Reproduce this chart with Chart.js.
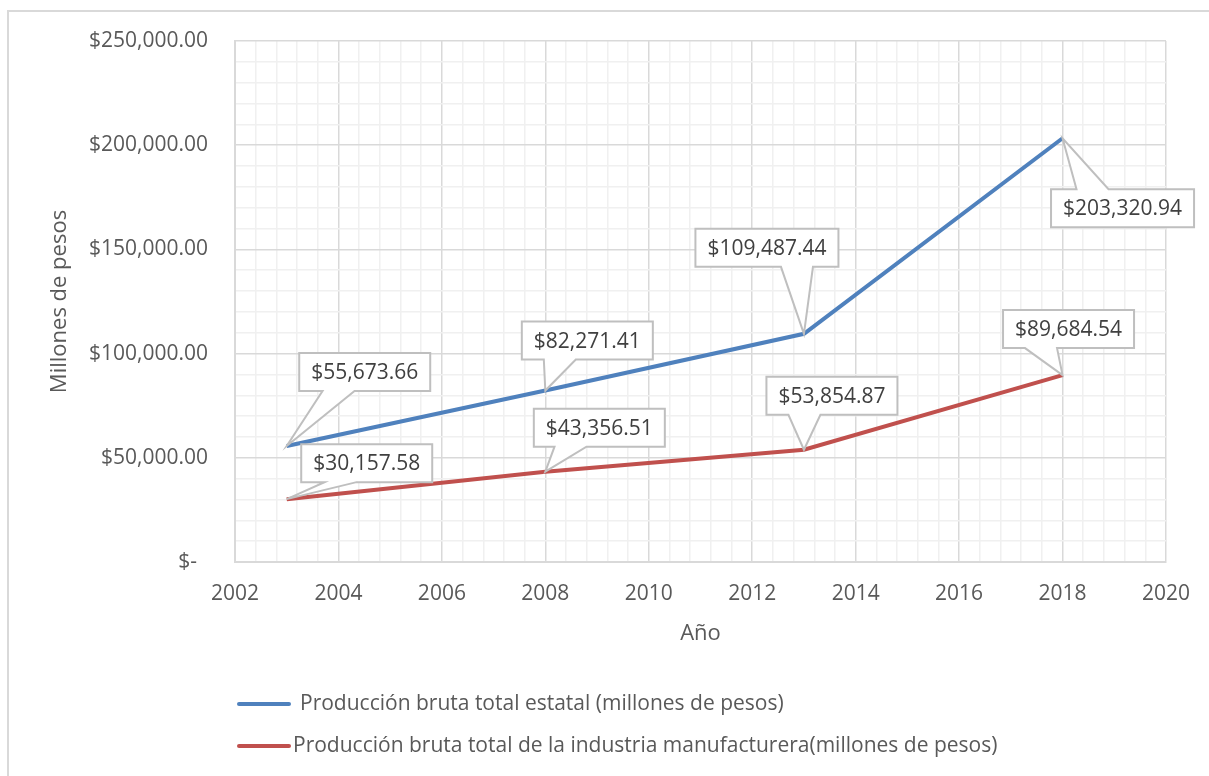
<!DOCTYPE html>
<html>
<head>
<meta charset="utf-8">
<script src="https://cdn.jsdelivr.net/npm/chart.js@4.4.1/dist/chart.umd.min.js"></script>
<style>
  html, body { margin: 0; padding: 0; background: #fff; }
  #wrap { width: 1209px; height: 776px; }
</style>
</head>
<body>
<div id="wrap"><canvas id="myChart" width="1209" height="776"></canvas></div>
<script>
const years = [2003, 2008, 2013, 2018];
const estatal = [55673.66, 82271.41, 109487.44, 203320.94];
const manufactura = [30157.58, 43356.51, 53854.87, 89684.54];
const seriesLabels = [
  "Producción bruta total estatal (millones de pesos)",
  "Producción bruta total de la industria manufacturera(millones de pesos)"
];
const seriesColors = ["#4f81bd", "#c0504d"];

// value box placement relative to its point: [dx, dy, wedge position along box]
const calloutPlacement = [
  [[78, -74, 0.30], [42, -50, 0.29], [-37, -86, 0.71], [60, 70, 0.29]],
  [[80, -36, 0.30], [54, -44, 0.28], [28, -54, 0.29], [6, -46, 0.29]]
];

const FONT = "'Open Sans', sans-serif";
const TEXT = "#595959";

function money(v) {
  if (v === 0) return "$-  ";
  return "$" + v.toLocaleString("en-US", { minimumFractionDigits: 2, maximumFractionDigits: 2 });
}

function near(v, step) {
  const q = v / step;
  return Math.abs(q - Math.round(q)) < 1e-6;
}

const background = {
  id: "background",
  beforeDraw(chart) {
    const ctx = chart.ctx;
    ctx.save();
    ctx.fillStyle = "#fff";
    ctx.fillRect(0, 0, chart.width, chart.height);
    ctx.restore();
  }
};

// Excel style data callouts: white box with a wedge pointing to the value
const callouts = {
  id: "callouts",
  afterDatasetsDraw(chart) {
    const ctx = chart.ctx;
    ctx.save();
    ctx.font = "21px " + FONT;
    chart.data.datasets.forEach((ds, di) => {
      const meta = chart.getDatasetMeta(di);
      meta.data.forEach((pt, i) => {
        const [dx, dy, frac] = calloutPlacement[di][i];
        const text = money(ds.data[i].y);
        const w = ctx.measureText(text).width + 24;
        const h = 38;
        const cx = pt.x + dx, cy = pt.y + dy;
        const l = cx - w / 2, r = cx + w / 2, t = cy - h / 2, b = cy + h / 2;
        const bx = l + frac * w;
        const half = 16;
        ctx.beginPath();
        if (pt.y > b) {
          ctx.moveTo(l, t); ctx.lineTo(r, t); ctx.lineTo(r, b);
          ctx.lineTo(bx + half, b); ctx.lineTo(pt.x, pt.y); ctx.lineTo(bx - half, b);
          ctx.lineTo(l, b);
        } else {
          ctx.moveTo(l, t); ctx.lineTo(bx - half, t); ctx.lineTo(pt.x, pt.y); ctx.lineTo(bx + half, t);
          ctx.lineTo(r, t); ctx.lineTo(r, b); ctx.lineTo(l, b);
        }
        ctx.closePath();
        ctx.fillStyle = "#fff";
        ctx.fill();
        ctx.strokeStyle = "#bfbfbf";
        ctx.lineWidth = 2;
        ctx.lineJoin = "miter";
        ctx.stroke();
        ctx.fillStyle = "#404040";
        ctx.textAlign = "center";
        ctx.textBaseline = "middle";
        ctx.fillText(text, cx, cy + 1);
      });
    });
    ctx.restore();
  }
};

// legend rows under the chart, plus the outer frame
const bottomLegend = {
  id: "bottomLegend",
  afterDraw(chart) {
    const ctx = chart.ctx;
    const rows = [[704, 300], [746, 293]];
    ctx.save();
    ctx.font = "21px " + FONT;
    ctx.textBaseline = "middle";
    ctx.textAlign = "left";
    chart.data.datasets.forEach((ds, i) => {
      const [y, tx] = rows[i];
      ctx.strokeStyle = ds.borderColor;
      ctx.lineWidth = 4;
      ctx.lineCap = "round";
      ctx.beginPath();
      ctx.moveTo(239, y);
      ctx.lineTo(289, y);
      ctx.stroke();
      ctx.fillStyle = TEXT;
      ctx.fillText(ds.label, tx, y);
    });
    ctx.strokeStyle = "#d9d9d9";
    ctx.lineWidth = 2;
    ctx.strokeRect(8, 11, 1230, 800);
    ctx.restore();
  }
};

const chartData = {
  datasets: [
    {
      label: seriesLabels[0],
      data: years.map((x, i) => ({ x: x, y: estatal[i] })),
      borderColor: seriesColors[0],
      backgroundColor: seriesColors[0],
      borderWidth: 4,
      pointRadius: 0,
      tension: 0,
      fill: false
    },
    {
      label: seriesLabels[1],
      data: years.map((x, i) => ({ x: x, y: manufactura[i] })),
      borderColor: seriesColors[1],
      backgroundColor: seriesColors[1],
      borderWidth: 4,
      pointRadius: 0,
      tension: 0,
      fill: false
    }
  ]
};

const config = {
  type: "line",
  data: chartData,
  options: {
    responsive: false,
    animation: false,
    devicePixelRatio: 1,
    layout: { padding: { left: 0, top: 41, right: 42, bottom: 0 } },
    plugins: {
      legend: { display: false },
      tooltip: { enabled: false }
    },
    scales: {
      x: {
        type: "linear",
        min: 2002,
        max: 2020,
        ticks: {
          stepSize: 0.4,
          autoSkip: false,
          maxRotation: 0,
          minRotation: 0,
          padding: 19,
          color: TEXT,
          font: { family: FONT, size: 21 },
          callback: (v) => (near(v, 2) ? String(Math.round(v)) : "")
        },
        grid: {
          drawTicks: false,
          lineWidth: 1.5,
          color: (c) => (near(c.tick.value, 2) ? "#d9d9d9" : "#f0f0f0")
        },
        border: { color: "#d9d9d9", width: 2 },
        title: {
          display: true,
          text: "Año",
          color: TEXT,
          font: { family: FONT, size: 22 },
          padding: { top: 0, bottom: 129 }
        },
        afterFit: (s) => { s.height = 214; }
      },
      y: {
        min: 0,
        max: 250000,
        ticks: {
          stepSize: 10000,
          autoSkip: false,
          padding: 27,
          color: TEXT,
          font: { family: FONT, size: 21 },
          callback: (v) => (near(v, 50000) ? money(v) : "")
        },
        grid: {
          drawTicks: false,
          lineWidth: 1.5,
          color: (c) => (near(c.tick.value, 50000) ? "#d9d9d9" : "#f0f0f0")
        },
        border: { color: "#d9d9d9", width: 2 },
        title: {
          display: true,
          text: "Millones de pesos",
          color: TEXT,
          font: { family: FONT, size: 22 },
          padding: { top: 47, bottom: 0 }
        },
        afterFit: (s) => { s.width = 235; }
      }
    }
  },
  plugins: [background, callouts, bottomLegend]
};

const myChart = new Chart(document.getElementById("myChart"), config);
</script>
</body>
</html>
